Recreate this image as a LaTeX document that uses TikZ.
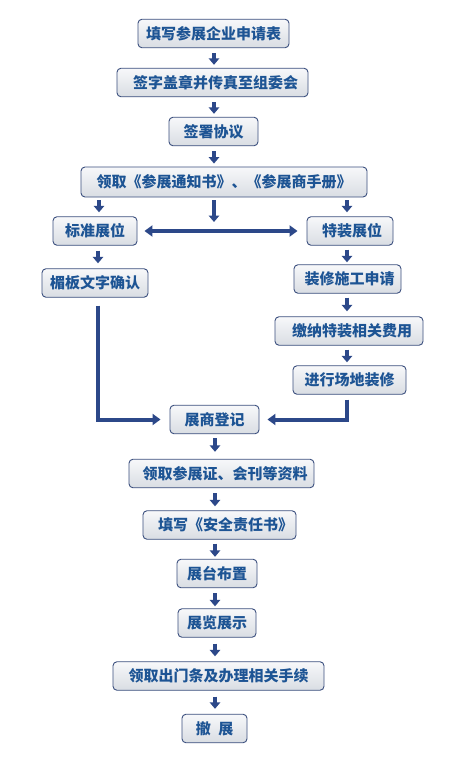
\documentclass[tikz,border=0pt]{standalone}
\usepackage{fontspec}
\newfontfamily\cjk{Noto Sans CJK SC}
\usetikzlibrary{arrows.meta}
\definecolor{txtblue}{HTML}{1D5494}
\definecolor{edgeblue}{HTML}{3B4F7E}
\definecolor{arrblue}{HTML}{2C4889}
\definecolor{filltop}{HTML}{F7F8FA}
\definecolor{fillbot}{HTML}{D9DDE3}
\tikzset{
  box/.style={draw=edgeblue, line width=0.9pt, rounded corners=4pt,
    top color=filltop, bottom color=fillbot, inner sep=0pt,
    font=\cjk\bfseries\fontsize{15pt}{17pt}\selectfont, text=txtblue,
    minimum height=28.5pt},
  arr/.style={draw=arrblue, line width=3.8pt, -{Triangle[width=10.5pt,length=6.5pt]}},
  big/.style={draw=arrblue, line width=4pt, -{Triangle[width=11pt,length=8pt]}},
  dbl/.style={draw=arrblue, line width=4pt, {Triangle[width=11pt,length=8pt]}-{Triangle[width=11pt,length=8pt]}}
}
\begin{document}
\begin{tikzpicture}[x=1pt,y=-1pt]
\fill[white] (0,0) rectangle (460,760);
\useasboundingbox (0,0) rectangle (460,760);
% boxes
\node[box, minimum width=151pt] (b1) at (213.5,33.5) {填写参展企业申请表};
\node[box, minimum width=191pt] (b2) at (212.5,82.5) {\hspace{6pt}签字盖章并传真至组委会};
\node[box, minimum width=89pt] (b3) at (213.5,131.5) {签署协议};
\node[box, minimum width=286pt, minimum height=30pt] (b4) at (224,182) {领取《参展通知书》、《参展商手册》};
\node[box, minimum width=84pt] (bz) at (95,231) {标准展位};
\node[box, minimum width=86pt] (bt) at (350,231) {\hspace{4pt}特装展位};
\node[box, minimum width=106pt] (bm) at (95,283) {楣板文字确认};
\node[box, minimum width=107pt] (bs) at (347.5,279) {\hspace{4pt}装修施工申请};
\node[box, minimum width=148pt] (bj) at (349,331) {\hspace{6pt}缴纳特装相关费用};
\node[box, minimum width=113pt] (bc) at (349.5,380) {进行场地装修};
\node[box, minimum width=89pt] (bd) at (214.5,419.5) {展商登记};
\node[box, minimum width=185pt] (bl) at (221.5,473.5) {\hspace{7pt}领取参展证、会刊等资料};
\node[box, minimum width=153pt] (bx) at (219.5,525) {\hspace{12pt}填写《安全责任书》};
\node[box, minimum width=80pt] (bb) at (217,573.5) {展台布置\hspace{8pt}};
\node[box, minimum width=78pt] (bzs) at (217,623) {展览展示};
\node[box, minimum width=211pt] (bo) at (218.5,676) {领取出门条及办理相关手续};
\node[box, minimum width=65pt] (bce) at (214.5,728.5) {撤\hspace{0.5em}展};
% column coordinates
\coordinate (cx) at (214,0);
\coordinate (mid) at (214,222);
\coordinate (lx) at (99,0);
\coordinate (rx) at (347,0);
% main column arrows
\draw[arr] ([yshift=-5pt]b1.south -| cx) -- ([yshift=3pt]b2.north -| cx);
\draw[arr] ([yshift=-5pt]b2.south -| cx) -- ([yshift=3pt]b3.north -| cx);
\draw[arr] ([yshift=-5pt]b3.south -| cx) -- ([yshift=3pt]b4.north -| cx);
\draw[arr] ([yshift=-3pt]b4.south -| lx) -- ([yshift=4pt]bz.north -| lx);
\draw[arr] ([yshift=-3pt]b4.south -| cx) -- (mid);
\draw[arr] ([yshift=-3pt]b4.south -| rx) -- ([yshift=4pt]bt.north -| rx);
\draw[dbl] ([xshift=7pt]bz.east) -- ([xshift=-9pt]bt.west);
\draw[arr] ([xshift=3pt,yshift=-5pt]bz.south) -- ([xshift=3pt,yshift=5pt]bm.north -| bz.south);
\draw[arr] ([yshift=-4pt]bt.south -| rx) -- ([yshift=2pt]bs.north -| rx);
\draw[arr] ([yshift=-4pt]bs.south -| rx) -- ([yshift=5pt]bj.north -| rx);
\draw[arr] ([yshift=-4pt]bj.south -| rx) -- ([yshift=3pt]bc.north -| rx);
\draw[big] ([xshift=3pt,yshift=-8pt]bm.south) |- ([xshift=-9pt]bd.west);
\draw[big] ([xshift=-2.5pt,yshift=-5pt]bc.south) |- ([xshift=8pt]bd.east);
\coordinate (cx2) at (215,0);
\draw[arr] ([yshift=-4pt]bd.south -| cx2) -- ([yshift=7pt]bl.north -| cx2);
\draw[arr] ([yshift=-5pt]bl.south -| cx2) -- ([yshift=4pt]bx.north -| cx2);
\draw[arr] ([yshift=-4pt]bx.south -| cx2) -- ([yshift=2pt]bb.north -| cx2);
\draw[arr] ([yshift=-5pt]bb.south -| cx2) -- ([yshift=2pt]bzs.north -| cx2);
\draw[arr] ([yshift=-6pt]bzs.south -| cx2) -- ([yshift=5pt]bo.north -| cx2);
\draw[arr] ([yshift=-6pt]bo.south -| cx2) -- ([yshift=5pt]bce.north -| cx2);
\end{tikzpicture}
\end{document}
